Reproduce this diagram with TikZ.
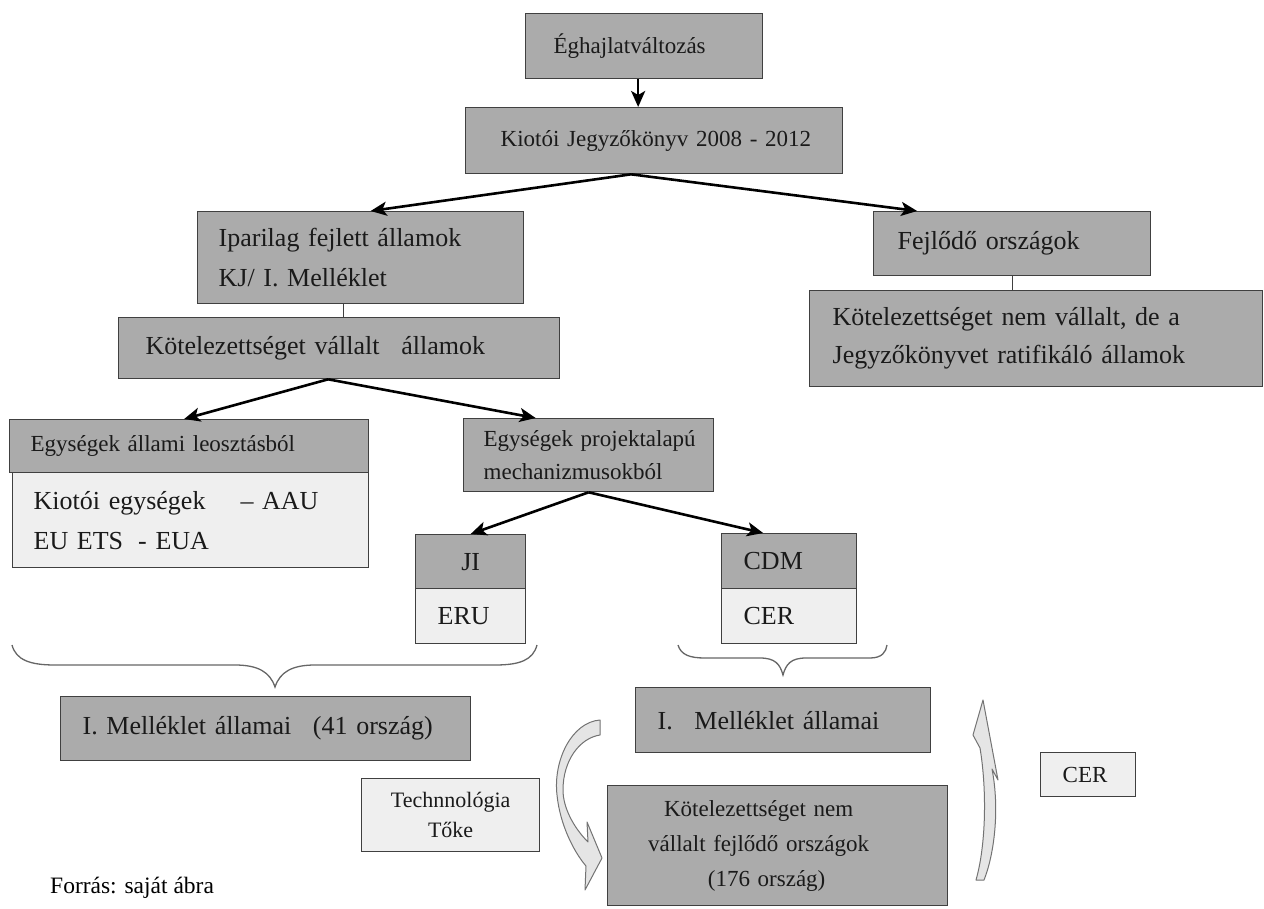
\documentclass[tikz,border=0pt]{standalone}
\usepackage{fontspec}
\setmainfont{Liberation Serif}
\usetikzlibrary{arrows.meta}
\definecolor{boxdark}{HTML}{ABABAB}
\definecolor{boxlight}{HTML}{EFEFEF}
\definecolor{edge}{HTML}{404040}
\definecolor{ink}{HTML}{1A1A1A}

\tikzset{
  box/.style={draw=edge, line width=1.3pt, anchor=north west, inner ysep=0pt, align=left, text=ink},
  darkbox/.style={box, fill=boxdark},
  lightbox/.style={box, fill=boxlight},
  txtS/.style={font=\fontsize{23}{33}\selectfont},
  txtL/.style={font=\fontsize{26}{40}\selectfont},
  flow/.style={line width=2.6pt, draw=black, -{Stealth[length=16pt, width=14pt, inset=4pt]}},
  plain/.style={line width=1pt, draw=edge},
  brace/.style={line width=1.3pt, draw=black!60},
  curvedarrow/.style={fill=black!10, draw=black!55, line width=1pt, line join=round}
}

\begin{document}
\begin{tikzpicture}[x=1pt, y=-1pt]
\useasboundingbox (0,0) rectangle (1264,908);

% top of the hierarchy
\node[darkbox, txtS, minimum width=237pt, minimum height=65pt, text width=181pt, inner xsep=28pt]
  (egh) at (525,13) {\mbox{Éghajlatváltozás}};
\node[darkbox, txtS, minimum width=377pt, minimum height=66pt, text width=307pt, inner xsep=35pt]
  (kj) at (465,107) {\mbox{Kiotói Jegyzőkönyv 2008 - 2012}};

% industrialised branch
\node[darkbox, txtL, minimum width=326pt, minimum height=92pt, text width=284pt, inner xsep=21pt]
  (ipar) at (197,211) {\mbox{Iparilag fejlett államok}\\\mbox{KJ/ I. Melléklet}};
\node[darkbox, txtL, minimum width=441pt, minimum height=61pt, text width=387pt, inner xsep=27pt]
  (kval) at (118,317) {\mbox{Kötelezettséget vállalt\hspace{0.5em} államok}};

% developing branch
\node[darkbox, txtL, minimum width=277pt, minimum height=64pt, text width=229pt, inner xsep=24pt]
  (fejl) at (873,211) {\mbox{Fejlődő országok}};
\node[darkbox, txtL, minimum width=453pt, minimum height=96pt, text width=407pt, inner xsep=23pt, font=\fontsize{26}{38}\selectfont]
  (knem) at (809,290) {\mbox{Kötelezettséget nem vállalt, de a}\\\mbox{Jegyzőkönyvet ratifikáló államok}};

% unit types
\node[darkbox, txtS, minimum width=359pt, minimum height=53pt, text width=317pt, inner xsep=21pt]
  (egyall) at (9,419) {\mbox{Egységek állami leosztásból}};
\node[lightbox, txtL, minimum width=356pt, minimum height=95pt, text width=314pt, inner xsep=21pt]
  (kiot) at (12,472) {\mbox{Kiotói egységek\hspace*{35pt}– AAU}\\\mbox{EU ETS\hspace*{15pt}- EUA}};
\node[darkbox, txtS, minimum width=250pt, minimum height=73pt, text width=210pt, inner xsep=20pt]
  (proj) at (463,418) {\mbox{Egységek projektalapú}\\\mbox{mechanizmusokból}};

% project mechanisms
\node[darkbox, txtL, minimum width=110pt, minimum height=54pt, align=center, text width=70pt, inner xsep=20pt]
  (ji) at (415,534) {\mbox{JI}};
\node[lightbox, txtL, minimum width=110pt, minimum height=55pt, text width=66pt, inner xsep=22pt]
  (eru) at (415,588) {\mbox{ERU}};
\node[darkbox, txtL, minimum width=135pt, minimum height=55pt, text width=91pt, inner xsep=22pt]
  (cdm) at (721,533) {\mbox{CDM}};
\node[lightbox, txtL, minimum width=135pt, minimum height=55pt, text width=91pt, inner xsep=22pt]
  (cer) at (721,588) {\mbox{CER}};

% country groups
\node[darkbox, txtL, minimum width=410pt, minimum height=64pt, text width=366pt, inner xsep=22pt]
  (mellA) at (60,696) {\mbox{I. Melléklet államai\hspace{0.5em} (41 ország)}};
\node[darkbox, txtL, minimum width=295pt, minimum height=65pt, text width=251pt, inner xsep=22pt]
  (mellB) at (635,687) {\mbox{I.\hspace{0.5em} Melléklet államai}};
\node[lightbox, minimum width=178pt, minimum height=73pt, text width=150pt, inner xsep=14pt, align=center, font=\fontsize{22}{30}\selectfont]
  (tech) at (361,778) {\mbox{Technnológia}\\\mbox{Tőke}};
\node[darkbox, txtS, minimum width=340pt, minimum height=120pt, text width=300pt, inner xsep=20pt, align=center, font=\fontsize{23}{35}\selectfont]
  (dev) at (607,785) {\mbox{Kötelezettséget nem\hspace{38pt}}\\\mbox{vállalt fejlődő országok\hspace{38pt}}\\\mbox{(176 ország)\hspace{22pt}}};
\node[lightbox, txtS, minimum width=95pt, minimum height=44pt, text width=51pt, inner xsep=22pt]
  (cerB) at (1040,752) {\mbox{CER}};

% source line
\node[anchor=base west, inner sep=0pt, text=black, font=\fontsize{23.5}{28}\selectfont]
  (src) at (50,893) {Forrás: saját ábra};

% connectors
\coordinate (eghout) at ([xshift=-6pt]egh.south);
\draw[flow] (eghout) -- (eghout |- kj.north);

\coordinate (kjfork) at ([xshift=-23pt]kj.south);
\draw[flow] (kjfork) -- ([xshift=10pt]ipar.north);
\draw[flow] (kjfork) -- ([xshift=-95pt]fejl.north);

\coordinate (iparlink) at ([xshift=-17pt]ipar.south);
\draw[plain] (iparlink) -- (iparlink |- kval.north);
\draw[plain] (fejl.south) -- (fejl.south |- knem.north);

\coordinate (kvalfork) at ([xshift=-11pt]kval.south);
\draw[flow] (kvalfork) -- ([xshift=-5pt]egyall.north);
\draw[flow] (kvalfork) -- ([xshift=-53pt]proj.north);

\draw[flow] (proj.south) -- (ji.north);
\draw[flow] (proj.south) -- ([xshift=-26pt]cdm.north);

% braces
\draw[brace] (12,645) .. controls (16,660) and (30,665) .. (55,665) -- (235,665)
  .. controls (258,665) and (270,672) .. (275,687)
  .. controls (280,672) and (292,665) .. (315,665) -- (495,665)
  .. controls (520,665) and (533,660) .. (537,645);
\draw[brace] (678,645) .. controls (681,655) and (690,658) .. (705,658) -- (760,658)
  .. controls (775,658) and (780,664) .. (783,675)
  .. controls (786,664) and (791,658) .. (806,658) -- (870,658)
  .. controls (882,658) and (886,652) .. (887,645);

% curved flow arrows
\draw[curvedarrow] (600,720) .. controls (572,722) and (553,760) .. (557,795)
  .. controls (560,825) and (574,852) .. (586,866) -- (585,890) -- (602,858) -- (587,822) -- (588,842)
  .. controls (574,828) and (563,808) .. (563,790)
  .. controls (563,760) and (580,738) .. (600,735) -- cycle;
\draw[curvedarrow] (976,880) .. controls (986,845) and (987,790) .. (980,748) -- (973,735) -- (983,700)
  -- (998,780) -- (992,769) .. controls (1000,810) and (994,855) .. (984,880) -- cycle;
\end{tikzpicture}
\end{document}
